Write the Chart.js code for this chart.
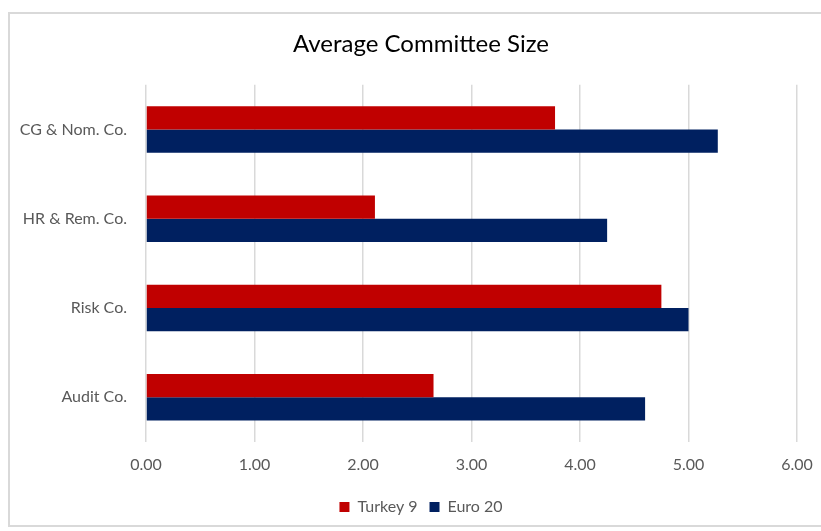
<!DOCTYPE html>
<html>
<head>
<meta charset="utf-8">
<script src="https://cdn.jsdelivr.net/npm/chart.js@4/dist/chart.umd.min.js"></script>
<style>
  html, body { margin: 0; padding: 0; background: #fff; overflow: hidden; }
  #frame {
    position: absolute; left: 8px; top: 12px; width: 830px; height: 515px;
    border: 2px solid #d9d9d9; box-sizing: border-box;
  }
  #wrap { position: absolute; left: 0; top: 0; width: 821px; height: 531px; }
</style>
</head>
<body>
<div id="frame"></div>
<div id="wrap"><canvas id="sizeChart"></canvas></div>
<script>
const committees = ["CG & Nom. Co.", "HR & Rem. Co.", "Risk Co.", "Audit Co."];
const turkey9 = [3.77, 2.11, 4.75, 2.65];
const euro20 = [5.27, 4.25, 5.00, 4.60];
const xTicks = [0, 1, 2, 3, 4, 5, 6];

Chart.defaults.font.family = "Lato, 'Open Sans', sans-serif";
Chart.defaults.color = "#595959";

// title and legend sit centred over the framed box, not over the canvas
const centreBlocks = {
  id: "centreBlocks",
  afterLayout(chart) {
    for (const box of [chart.titleBlock, chart.legend]) {
      if (box) {
        box.left = 45;
        box.right = 797;
      }
    }
  },
};

new Chart(document.getElementById("sizeChart"), {
  type: "bar",
  data: {
    labels: committees,
    datasets: [
      { label: "Turkey 9", data: turkey9, backgroundColor: "#C00000" },
      { label: "Euro 20", data: euro20, backgroundColor: "#002060" },
    ],
  },
  options: {
    indexAxis: "y",
    responsive: true,
    maintainAspectRatio: false,
    animation: false,
    datasets: { bar: { barPercentage: 1, categoryPercentage: 0.52 } },
    layout: { padding: { left: 0, right: 24, top: 0, bottom: 6 } },
    scales: {
      x: {
        min: 0,
        max: 6,
        afterBuildTicks: (scale) => {
          scale.ticks = xTicks.map((v) => ({ value: v }));
        },
        // the last label may hang past the plot edge
        afterFit: (scale) => {
          scale.paddingRight = 0;
          scale.paddingLeft = 0;
        },
        grid: { color: "#d9d9d9", lineWidth: 1.5, drawTicks: false },
        border: { display: false },
        ticks: {
          padding: 13,
          font: { size: 16 },
          callback: (v) => Number(v).toFixed(2),
        },
      },
      y: {
        grid: { display: false },
        border: { display: false },
        afterFit: (scale) => { scale.width = 146; },
        ticks: { padding: 11, font: { size: 16 } },
      },
    },
    plugins: {
      title: {
        display: true,
        text: "Average Committee Size",
        color: "#000",
        font: { size: 24, weight: "normal" },
        padding: { top: 30, bottom: 26 },
      },
      legend: {
        position: "bottom",
        labels: {
          boxWidth: 10,
          boxHeight: 10,
          padding: 12,
          font: { size: 16 },
        },
      },
      tooltip: { enabled: false },
    },
  },
  plugins: [centreBlocks],
});
</script>
</body>
</html>
